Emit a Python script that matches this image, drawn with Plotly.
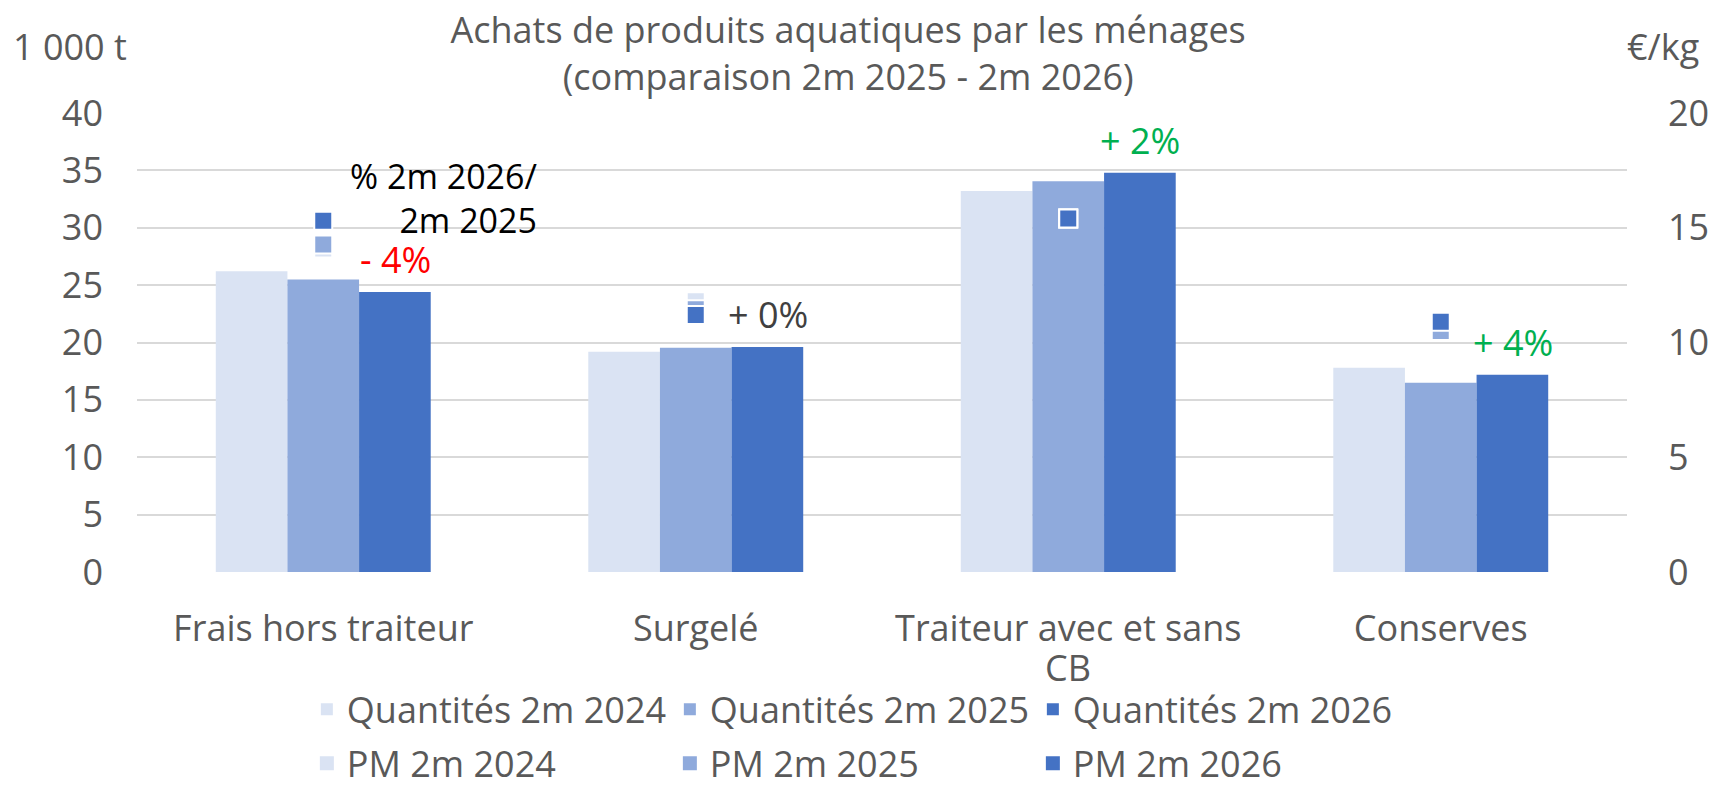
import plotly.graph_objects as go

categories = ["Frais hors traiteur", "Surgelé", "Traiteur avec et sans", "Conserves"]
q_2024 = [26.2, 19.2, 33.2, 17.8]
q_2025 = [25.5, 19.55, 34.05, 16.5]
q_2026 = [24.4, 19.6, 34.8, 17.2]
pm_2024 = [14.1, 11.8, 15.4, 10.6]
pm_2025 = [14.27, 11.45, 15.4, 10.5]
pm_2026 = [15.3, 11.2, 15.4, 10.9]
pct_labels = ["- 4%", "+ 0%", "+ 2%", "+ 4%"]
pct_colors = ["#FF0000", "#404040", "#00B050", "#00B050"]
label_continuation = "CB"  # second line of the "Traiteur avec et sans CB" category label

c24, c25, c26 = "#DAE3F3", "#8FAADC", "#4472C4"
FONT = "Open Sans"
GREY = "#595959"
FS = 36

fig = go.Figure()
for name, vals, col in [("Quantités 2m 2024", q_2024, c24),
                        ("Quantités 2m 2025", q_2025, c25),
                        ("Quantités 2m 2026", q_2026, c26)]:
    fig.add_trace(go.Bar(x=categories, y=vals, name=name, marker_color=col,
                         marker_line_width=0, legend="legend"))

for name, vals, col in [("PM 2m 2024", pm_2024, c24),
                        ("PM 2m 2025", pm_2025, c25),
                        ("PM 2m 2026", pm_2026, c26)]:
    fig.add_trace(go.Scatter(x=categories, y=vals, name=name, mode="markers", yaxis="y2",
                             marker=dict(symbol="square", size=18, color=col,
                                         line=dict(color="white", width=2)),
                             legend="legend2"))

annotations = []
for cat, v, txt, col in zip(categories, q_2026, pct_labels, pct_colors):
    annotations.append(dict(x=cat, y=v, xref="x", yref="y", text=txt, showarrow=False,
                            xshift=72, yanchor="bottom", yshift=6,
                            font=dict(family=FONT, size=FS, color=col)))
annotations.append(dict(x=categories[0], y=32.5, xref="x", yref="y",
                        text="% 2m 2026/<br>2m 2025", align="right",
                        showarrow=False, xanchor="right", xshift=216, yanchor="middle",
                        yshift=1,
                        font=dict(family=FONT, size=34, color="#000000")))
annotations.append(dict(x=categories[2], y=-0.207, xref="x", yref="paper",
                        text=label_continuation, showarrow=False, xanchor="center",
                        yanchor="middle", font=dict(family=FONT, size=FS, color=GREY)))
annotations.append(dict(x=-0.0846, y=1.145, xref="paper", yref="paper", text="1 000 t",
                        showarrow=False, xanchor="left", yanchor="middle",
                        font=dict(family=FONT, size=FS, color=GREY)))
annotations.append(dict(x=1.0497, y=1.145, xref="paper", yref="paper", text="€/kg",
                        showarrow=False, xanchor="right", yanchor="middle",
                        font=dict(family=FONT, size=FS, color=GREY)))

fig.update_layout(
    width=1710, height=785,
    margin=dict(l=137, r=83, t=113, b=213, autoexpand=False),
    paper_bgcolor="white", plot_bgcolor="white",
    font=dict(family=FONT, size=FS, color=GREY),
    title=dict(text="Achats de produits aquatiques par les ménages<br>(comparaison 2m 2025 - 2m 2026)",
               x=0.496, xanchor="center", y=0.945, yanchor="middle",
               font=dict(family=FONT, size=FS, color=GREY)),
    barmode="group", bargap=0.423, bargroupgap=0,
    xaxis=dict(showgrid=False, showline=False, ticks="", ticklabelstandoff=32,
               automargin=False, tickfont=dict(size=FS, color=GREY)),
    yaxis=dict(range=[0, 40], dtick=5, showgrid=True, gridcolor="#D9D9D9", gridwidth=2,
               zeroline=False, showline=False, ticklabelstandoff=33, automargin=False,
               tickfont=dict(size=FS, color=GREY)),
    yaxis2=dict(range=[0, 20], overlaying="y", side="right", showgrid=False,
                zeroline=False, showline=False, ticklabelstandoff=40, automargin=False,
                tickvals=[0, 5, 10, 15, 20],
                tickfont=dict(size=FS, color=GREY)),
    showlegend=True,
    legend=dict(orientation="h", x=0.114, xanchor="left", y=-0.299, yanchor="middle",
                entrywidth=318, font=dict(size=FS, color=GREY), traceorder="normal",
                bgcolor="rgba(0,0,0,0)"),
    legend2=dict(orientation="h", x=0.114, xanchor="left", y=-0.417, yanchor="middle",
                 entrywidth=318, font=dict(size=FS, color=GREY), traceorder="normal",
                 bgcolor="rgba(0,0,0,0)"),
    annotations=annotations,
)

fig.write_html("out.html",
               config={"displayModeBar": False},
               post_script="document.body.style.margin='0px';"
                           "document.body.style.overflow='hidden';")
